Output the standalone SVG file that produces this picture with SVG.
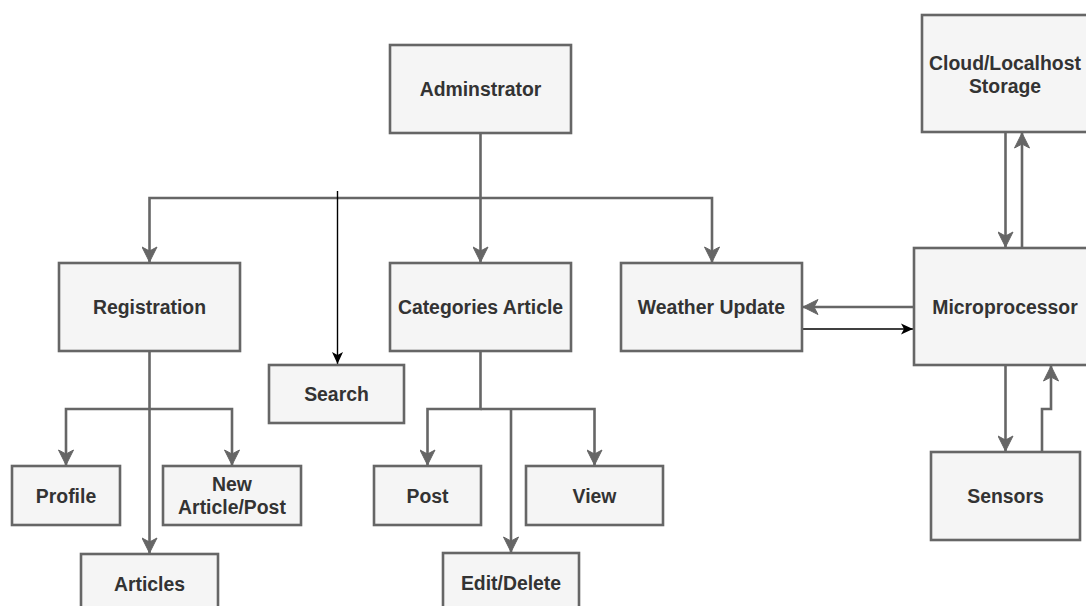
<svg xmlns="http://www.w3.org/2000/svg" width="1086" height="606" viewBox="0 0 1086 606">
<defs>
<style>
.box{fill:#f5f5f5;stroke:#666666;stroke-width:2.6}
.lbl{font-family:"Liberation Sans",Arial,sans-serif;font-weight:bold;font-size:19.4px;fill:#333333;text-anchor:middle}
.edge{fill:none;stroke:#666666;stroke-width:2.6}
.thin{fill:none;stroke:#000000;stroke-width:1.4}
</style>
<marker id="ag" markerUnits="userSpaceOnUse" viewBox="0 0 17 16" markerWidth="17" markerHeight="16" refX="16" refY="8" orient="auto">
<path d="M1,0.5 L16,8 L1,15.5 L5,8 Z" fill="#666666" stroke="#666666" stroke-width="1" stroke-linejoin="miter"/>
</marker>
<marker id="ab" markerUnits="userSpaceOnUse" viewBox="0 0 13 12" markerWidth="13" markerHeight="12" refX="12.5" refY="6" orient="auto">
<path d="M0.5,0.5 L12.5,6 L0.5,11.5 L3.5,6 Z" fill="#000000"/>
</marker>
</defs>
<rect width="1086" height="606" fill="#ffffff"/>
<g id="connectors">
<path class="edge" d="M480.5,133 V262" marker-end="url(#ag)"/>
<path class="edge" d="M480.5,198 H149.5 V262" marker-end="url(#ag)"/>
<path class="edge" d="M480.5,198 H712 V262" marker-end="url(#ag)"/>
<path class="thin" d="M337.5,191 V364" marker-end="url(#ab)"/>
<path class="edge" d="M149.5,351 V553" marker-end="url(#ag)"/>
<path class="edge" d="M149.5,409 H66 V465" marker-end="url(#ag)"/>
<path class="edge" d="M149.5,409 H232 V465" marker-end="url(#ag)"/>
<path class="edge" d="M480.5,351 V409 H427.5 V465" marker-end="url(#ag)"/>
<path class="edge" d="M480.5,409 H594.5 V465" marker-end="url(#ag)"/>
<path class="edge" d="M511,409 V552" marker-end="url(#ag)"/>
<path class="edge" d="M1005.5,132 V247" marker-end="url(#ag)"/>
<path class="edge" d="M1022,248 V133" marker-end="url(#ag)"/>
<path class="edge" d="M914,307 H803" marker-end="url(#ag)"/>
<path class="thin" d="M802,329 H913" marker-end="url(#ab)"/>
<path class="edge" d="M1005.5,365 V451" marker-end="url(#ag)"/>
<path class="edge" d="M1042,452 V409 H1051 V366" marker-end="url(#ag)"/>
</g>
<g id="administrator"><rect class="box" x="390" y="45" width="181" height="88"/><text class="lbl" x="480.5" y="96">Adminstrator</text></g>
<g id="registration"><rect class="box" x="59" y="263" width="181" height="88"/><text class="lbl" x="149.5" y="314">Registration</text></g>
<g id="categories"><rect class="box" x="390" y="263" width="181" height="88"/><text class="lbl" x="480.5" y="314">Categories Article</text></g>
<g id="weather"><rect class="box" x="621" y="263" width="181" height="88"/><text class="lbl" x="711.5" y="314">Weather Update</text></g>
<g id="microprocessor"><rect class="box" x="914" y="248" width="182" height="117"/><text class="lbl" x="1005" y="313.5">Microprocessor</text></g>
<g id="cloud"><rect class="box" x="922" y="15" width="166" height="117"/><text class="lbl" x="1005" y="70">Cloud/Localhost</text><text class="lbl" x="1005" y="92.5">Storage</text></g>
<g id="search"><rect class="box" x="269" y="365" width="135" height="58"/><text class="lbl" x="336.5" y="401">Search</text></g>
<g id="profile"><rect class="box" x="12" y="466" width="108" height="59"/><text class="lbl" x="66" y="502.5">Profile</text></g>
<g id="newarticle"><rect class="box" x="163" y="466" width="138" height="59"/><text class="lbl" x="232" y="491">New</text><text class="lbl" x="232" y="514">Article/Post</text></g>
<g id="articles"><rect class="box" x="81" y="554" width="137" height="60"/><text class="lbl" x="149.5" y="591">Articles</text></g>
<g id="post"><rect class="box" x="374" y="466" width="107" height="59"/><text class="lbl" x="427.5" y="502.5">Post</text></g>
<g id="view"><rect class="box" x="526" y="466" width="137" height="59"/><text class="lbl" x="594.5" y="502.5">View</text></g>
<g id="editdelete"><rect class="box" x="443" y="553" width="136" height="60"/><text class="lbl" x="511" y="590">Edit/Delete</text></g>
<g id="sensors"><rect class="box" x="931" y="452" width="149" height="88"/><text class="lbl" x="1005.5" y="503">Sensors</text></g>
</svg>
